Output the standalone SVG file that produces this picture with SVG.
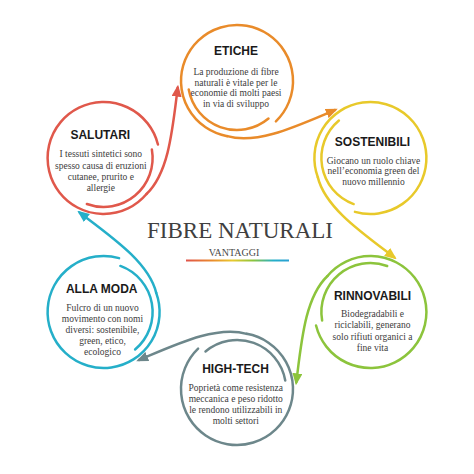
<svg xmlns="http://www.w3.org/2000/svg" xmlns:xlink="http://www.w3.org/1999/xlink" width="474" height="474" viewBox="0 0 474 474">
  <style>
    .ring { fill: none; stroke-width: 2.5; stroke-linecap: round; }
    .con { fill: none; stroke-width: 2.5; stroke-linecap: round; }
    .h { font-family: "Liberation Sans", Arial, sans-serif; font-weight: bold; font-size: 12px; fill: #1a1a1a; text-anchor: middle; }
    .b { font-family: "Liberation Serif", "Times New Roman", serif; font-size: 9.5px; fill: #3c3c3c; text-anchor: middle; }
    .title { font-family: "Liberation Serif", "Times New Roman", serif; font-size: 23px; fill: #404040; text-anchor: middle; }
    .sub { font-family: "Liberation Serif", "Times New Roman", serif; font-size: 10px; fill: #4a4a4a; text-anchor: middle; }
  </style>
  <defs>
    <g id="ring">
      <path d="M38.9 40.3 A56 56 0 1 0 -9.72 55.15"/>
      <path d="M-48.26 8.51 A49 49 0 0 0 31.5 37.54"/>
    </g>
    <linearGradient id="rainbow" gradientUnits="userSpaceOnUse" x1="186" y1="0" x2="289" y2="0">
      <stop offset="0" stop-color="#e0534a"/>
      <stop offset="0.25" stop-color="#ea8a2c"/>
      <stop offset="0.45" stop-color="#e9c92e"/>
      <stop offset="0.65" stop-color="#8cc43c"/>
      <stop offset="0.85" stop-color="#25afc9"/>
      <stop offset="1" stop-color="#2a9fd3"/>
    </linearGradient>
    <marker id="m-or" viewBox="0 0 12 10" refX="9" refY="5" markerWidth="12" markerHeight="10" markerUnits="userSpaceOnUse" orient="auto"><path d="M0 0 L12 5 L0 10 z" fill="#e98b2a"/></marker>
    <marker id="m-ye" viewBox="0 0 12 10" refX="9" refY="5" markerWidth="12" markerHeight="10" markerUnits="userSpaceOnUse" orient="auto"><path d="M0 0 L12 5 L0 10 z" fill="#e8c92a"/></marker>
    <marker id="m-gr" viewBox="0 0 12 10" refX="9" refY="5" markerWidth="12" markerHeight="10" markerUnits="userSpaceOnUse" orient="auto"><path d="M0 0 L12 5 L0 10 z" fill="#8cc43c"/></marker>
    <marker id="m-sl" viewBox="0 0 12 10" refX="9" refY="5" markerWidth="12" markerHeight="10" markerUnits="userSpaceOnUse" orient="auto"><path d="M0 0 L12 5 L0 10 z" fill="#6d878b"/></marker>
    <marker id="m-cy" viewBox="0 0 12 10" refX="9" refY="5" markerWidth="12" markerHeight="10" markerUnits="userSpaceOnUse" orient="auto"><path d="M0 0 L12 5 L0 10 z" fill="#25afc9"/></marker>
    <marker id="m-rd" viewBox="0 0 12 10" refX="9" refY="5" markerWidth="12" markerHeight="10" markerUnits="userSpaceOnUse" orient="auto"><path d="M0 0 L12 5 L0 10 z" fill="#e0584b"/></marker>
  </defs>

  <rect width="474" height="474" fill="#ffffff"/>

  <g id="connectors">
    <path class="con" stroke="#e98b2a" marker-end="url(#m-or)" transform="translate(237 81)" d="M-9.72 55.15 C20 64 60 45 98 29"/>
    <path class="con" stroke="#e8c92a" marker-end="url(#m-ye)" transform="translate(370.4 158) rotate(60)" d="M-9.72 55.15 C20 64 60 45 98 29"/>
    <path class="con" stroke="#8cc43c" marker-end="url(#m-gr)" transform="translate(370.4 312) rotate(120)" d="M-9.72 55.15 C20 64 60 45 98 29"/>
    <path class="con" stroke="#6d878b" marker-end="url(#m-sl)" transform="translate(237 389) rotate(180)" d="M-9.72 55.15 C20 64 60 45 98 29"/>
    <path class="con" stroke="#25afc9" marker-end="url(#m-cy)" transform="translate(103.6 312) rotate(240)" d="M-9.72 55.15 C20 64 60 45 98 29"/>
    <path class="con" stroke="#e0584b" marker-end="url(#m-rd)" transform="translate(103.6 158) rotate(300)" d="M-9.72 55.15 C20 64 60 45 98 29"/>
  </g>

  <g id="etiche">
    <use xlink:href="#ring" class="ring" stroke="#e98b2a" transform="translate(237 81)"/>
    <text class="h" x="236" y="55">ETICHE</text>
    <text class="b" x="236" y="75">La produzione di fibre</text>
    <text class="b" x="236" y="85.5">naturali è vitale per le</text>
    <text class="b" x="236" y="96">economie di molti paesi</text>
    <text class="b" x="236" y="106.5">in via di sviluppo</text>
  </g>

  <g id="sostenibili">
    <use xlink:href="#ring" class="ring" stroke="#e8c92a" transform="translate(370.4 158) rotate(60)"/>
    <text class="h" x="372.5" y="146">SOSTENIBILI</text>
    <text class="b" x="373.5" y="163.5">Giocano un ruolo chiave</text>
    <text class="b" x="373.5" y="174.3">nell’economia green del</text>
    <text class="b" x="373.5" y="185">nuovo millennio</text>
  </g>

  <g id="rinnovabili">
    <use xlink:href="#ring" class="ring" stroke="#8cc43c" transform="translate(370.4 312) rotate(120)"/>
    <text class="h" x="372.5" y="300">RINNOVABILI</text>
    <text class="b" x="372.5" y="316.5">Biodegradabili e</text>
    <text class="b" x="372.5" y="328">riciclabili, generano</text>
    <text class="b" x="372.5" y="339.5">solo rifiuti organici a</text>
    <text class="b" x="372.5" y="350.8">fine vita</text>
  </g>

  <g id="high-tech">
    <use xlink:href="#ring" class="ring" stroke="#6d878b" transform="translate(237 389) rotate(180)"/>
    <text class="h" x="235.5" y="372.7">HIGH-TECH</text>
    <text class="b" x="235.8" y="391">Poprietà come resistenza</text>
    <text class="b" x="235.8" y="402.2">meccanica e peso ridotto</text>
    <text class="b" x="235.8" y="413.3">le rendono utilizzabili in</text>
    <text class="b" x="235.8" y="424.3">molti settori</text>
  </g>

  <g id="alla-moda">
    <use xlink:href="#ring" class="ring" stroke="#25afc9" transform="translate(103.6 312) rotate(240)"/>
    <text class="h" x="101.7" y="293.3">ALLA MODA</text>
    <text class="b" x="102.5" y="311">Fulcro di un nuovo</text>
    <text class="b" x="102.5" y="322.2">movimento con nomi</text>
    <text class="b" x="102.5" y="333.3">diversi: sostenibile,</text>
    <text class="b" x="102.5" y="344.3">green, etico,</text>
    <text class="b" x="102.5" y="355.3">ecologico</text>
  </g>

  <g id="salutari">
    <use xlink:href="#ring" class="ring" stroke="#e0584b" transform="translate(103.6 158) rotate(300)"/>
    <text class="h" x="100.3" y="139.3">SALUTARI</text>
    <text class="b" x="100.8" y="157.3">I tessuti sintetici sono</text>
    <text class="b" x="100.8" y="168.6">spesso causa di eruzioni</text>
    <text class="b" x="100.8" y="179.8">cutanee, prurito e</text>
    <text class="b" x="100.8" y="191">allergie</text>
  </g>

  <g id="title">
    <text class="title" x="240" y="238">FIBRE NATURALI</text>
    <text class="sub" x="234" y="256">VANTAGGI</text>
    <line x1="186" y1="260.5" x2="289" y2="260.5" stroke="url(#rainbow)" stroke-width="2"/>
  </g>
</svg>
